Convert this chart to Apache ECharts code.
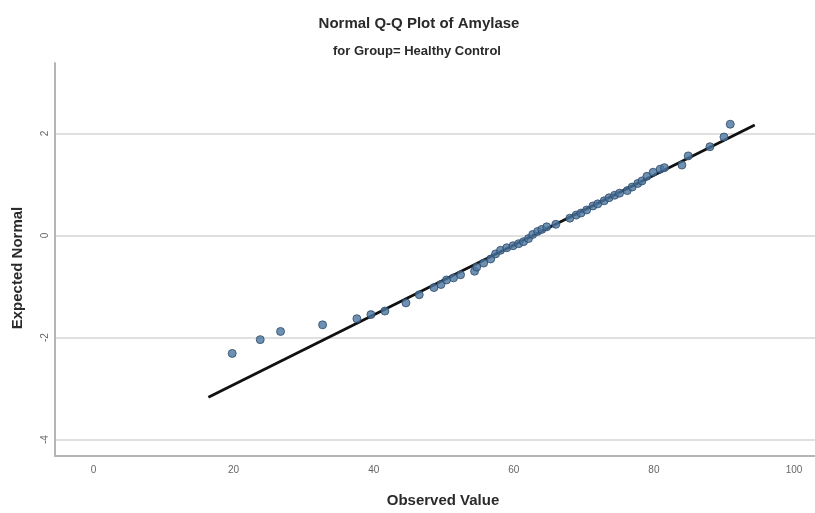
<!DOCTYPE html>
<html><head><meta charset="utf-8">
<script src="https://cdn.jsdelivr.net/npm/echarts@6/dist/echarts.min.js"></script>
<style>html,body{margin:0;padding:0;background:#fff}#c{width:815px;height:513px}</style>
</head><body><div id="c"></div>
<script>
const observed = [19.8,23.8,26.7,32.7,37.6,39.6,41.6,44.6,46.5,48.6,49.6,50.4,51.4,52.4,54.4,54.7,55.7,56.7,57.4,58.1,59,59.9,60.7,61.4,62.1,62.7,63.4,64,64.7,66,68,68.9,69.6,70.4,71.3,72,72.9,73.6,74.4,75.1,76.2,76.9,77.7,78.3,79,79.9,80.9,81.5,84,84.9,88,90,90.9];
const expected = [-2.31,-2.04,-1.88,-1.75,-1.63,-1.55,-1.48,-1.32,-1.16,-1.02,-0.96,-0.87,-0.83,-0.77,-0.70,-0.62,-0.54,-0.46,-0.36,-0.29,-0.24,-0.20,-0.16,-0.12,-0.06,0.02,0.08,0.12,0.17,0.22,0.34,0.40,0.44,0.50,0.58,0.62,0.68,0.74,0.79,0.83,0.88,0.95,1.02,1.07,1.16,1.24,1.30,1.33,1.38,1.56,1.74,1.93,2.18];
const refLineX = [16.4, 94.4];
const refLineY = [-3.17, 2.165];
const xTicks = [0,20,40,60,80,100];
const yTicks = [-4,-2,0,2];

const pts = observed.map((v,i)=>[v, expected[i]]);
const line = refLineX.map((v,i)=>[v, refLineY[i]]);
const FONT = "'Liberation Sans',Arial,sans-serif";
const chart = echarts.init(document.getElementById('c'));
chart.setOption({
  animation:false,
  backgroundColor:'#fff',
  title:[
    {text:'Normal Q-Q Plot of Amylase', left:414, top:11, textAlign:'center',
     textStyle:{fontFamily:FONT, fontSize:15, fontWeight:'bold', color:'#2a2a2a'}},
    {text:'for Group= Healthy Control', left:412, top:40, textAlign:'center',
     textStyle:{fontFamily:FONT, fontSize:13, fontWeight:'bold', color:'#2a2a2a'}}
  ],
  grid:{left:55, top:63, width:760, height:399, containLabel:false},
  xAxis:{type:'value', min:-5.5, max:103, name:'Observed Value', nameLocation:'middle', nameGap:37,
    nameTextStyle:{fontFamily:FONT, fontSize:15, fontWeight:'bold', color:'#2a2a2a', padding:[0,0,0,16]},
    axisLine:{show:true, onZero:false, lineStyle:{color:'#b5b5b5', width:2}},
    axisTick:{show:false, customValues:xTicks},
    axisLabel:{customValues:xTicks, fontFamily:FONT, fontSize:10, color:'#666', margin:9},
    splitLine:{show:false}},
  yAxis:{type:'value', min:-4.32, max:3.38, name:'Expected Normal', nameLocation:'middle', nameGap:30,
    nameTextStyle:{fontFamily:FONT, fontSize:15, fontWeight:'bold', color:'#2a2a2a', padding:[0,17,0,0]},
    axisLine:{show:true, onZero:false, lineStyle:{color:'#b5b5b5', width:2}},
    axisTick:{show:false, customValues:yTicks},
    axisLabel:{customValues:yTicks, rotate:90, fontFamily:FONT, fontSize:10, color:'#666', margin:5},
    splitLine:{show:true, lineStyle:{color:'#e0e0e0', width:2}}},
  series:[
    {type:'line', data:line, symbol:'none', lineStyle:{color:'#111', width:2.8}, z:3, silent:true},
    {type:'scatter', data:pts, symbolSize:8, itemStyle:{color:'#4a76a0', borderColor:'#2d4866', borderWidth:1}, z:4}
  ]
});
</script></body></html>
